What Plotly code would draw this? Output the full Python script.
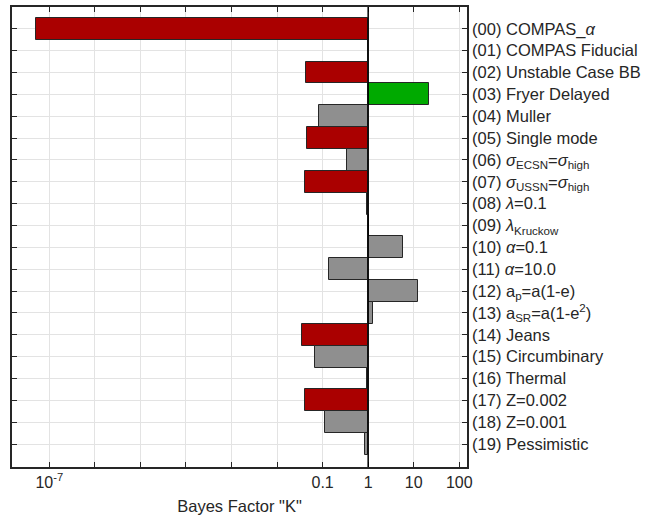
import plotly.graph_objects as go

labels = [
    "(00) COMPAS_<i>α</i>",
    "(01) COMPAS Fiducial",
    "(02) Unstable Case BB",
    "(03) Fryer Delayed",
    "(04) Muller",
    "(05) Single mode",
    "(06) <i>σ</i><sub>ECSN</sub>=<i>σ</i><sub>high</sub>",
    "(07) <i>σ</i><sub>USSN</sub>=<i>σ</i><sub>high</sub>",
    "(08) <i>λ</i>=0.1",
    "(09) <i>λ</i><sub>Kruckow</sub>",
    "(10) <i>α</i>=0.1",
    "(11) <i>α</i>=10.0",
    "(12) a<sub>p</sub>=a(1-e)",
    "(13) a<sub>SR</sub>=a(1-e<sup>2</sup>)",
    "(14) Jeans",
    "(15) Circumbinary",
    "(16) Thermal",
    "(17) Z=0.002",
    "(18) Z=0.001",
    "(19) Pessimistic",
]
bayes_k = [5.1e-8, 1.0, 0.044, 21.2, 0.083, 0.046, 0.35, 0.041, 0.92, 1.03,
           5.9, 0.138, 12.5, 1.29, 0.035, 0.069, 0.93, 0.040, 0.11, 0.86]
bar_class = ["red", "none", "red", "green", "gray", "red", "gray", "red", "gray", "gray",
             "gray", "gray", "gray", "gray", "red", "gray", "gray", "red", "gray", "gray"]

x_tickvals = [1e-7, 1e-6, 1e-5, 1e-4, 1e-3, 1e-2, 0.1, 1, 10, 100]
x_ticktext = ["10<sup>-7</sup>", "", "", "", "", "", "0.1", "1", "10", "100"]

palette = {"red": "#AA0000", "green": "#00AA00", "gray": "#8F8F8F", "none": "rgba(0,0,0,0)"}

idx = list(range(len(labels)))
fig = go.Figure()
fig.add_trace(go.Bar(
    y=idx,
    x=[k - 1 for k in bayes_k],
    base=[1] * len(bayes_k),
    orientation="h",
    width=1.0,
    marker=dict(color=[palette[c] for c in bar_class],
                line=dict(color="#262626", width=1)),
    showlegend=False,
    hoverinfo="skip",
))

fig.add_shape(type="line", xref="x", yref="paper", x0=1, x1=1, y0=0, y1=1,
              line=dict(color="#000000", width=1.5))

font_family = "Liberation Sans, Arial, sans-serif"
fs = 16.5
fig.update_layout(
    width=657, height=515,
    margin=dict(l=12, r=190, t=7, b=48),
    paper_bgcolor="white",
    plot_bgcolor="white",
    font=dict(family=font_family, color="#262626", size=fs),
    bargap=0,
    xaxis=dict(
        type="log",
        range=[-7.82, 2.17],
        tickvals=x_tickvals,
        ticktext=x_ticktext,
        ticks="inside",
        ticklen=5,
        tickcolor="#262626",
        showline=True,
        linecolor="#262626",
        linewidth=1.5,
        mirror="ticks",
        showgrid=True,
        gridcolor="#E3E3E3",
        gridwidth=1,
        zeroline=False,
        automargin=False,
        tickfont=dict(size=16, color="#262626"),
        title=dict(text='Bayes Factor "K"', font=dict(size=16.5, color="#262626"), standoff=12),
    ),
    yaxis=dict(
        range=[20.05, -1.0],
        tickvals=idx,
        ticktext=labels,
        side="right",
        ticks="inside",
        ticklen=5,
        tickcolor="#262626",
        showline=True,
        linecolor="#262626",
        linewidth=1.5,
        mirror="ticks",
        showgrid=True,
        gridcolor="#E3E3E3",
        gridwidth=1,
        zeroline=False,
        automargin=False,
        tickfont=dict(size=fs, color="#262626"),
    ),
)

fig.write_html("out.html")
